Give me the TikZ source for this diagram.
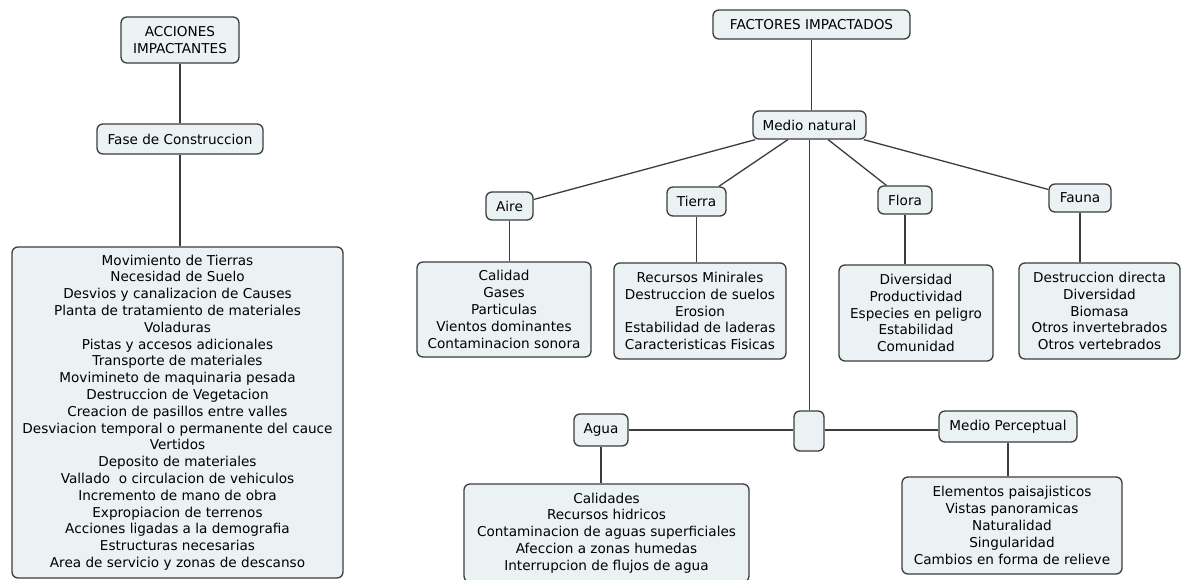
\documentclass[tikz,border=0pt]{standalone}
\usepackage{fontspec}
\setmainfont{DejaVu Sans}
\definecolor{boxfill}{HTML}{EBF2F4}
\definecolor{edge}{HTML}{3C3C3C}
\begin{document}
\begin{tikzpicture}[x=1pt,y=-1pt,
  cbox/.style={draw=edge, fill=boxfill, line width=1.3pt, rounded corners=6pt,
    align=center, inner sep=0pt, font=\fontsize{13.6}{16.8}\selectfont},
  link/.style={draw=edge, line width=1.3pt}]
\useasboundingbox[fill=white] (0,0) rectangle (1181,579);

% left tree
\node[cbox, minimum width=118pt, minimum height=46pt] (acc) at (180,40) {ACCIONES\\IMPACTANTES};
\node[cbox, minimum width=166pt, minimum height=30pt] (fase) at (180,139) {Fase de Construccion};
\node[cbox, minimum width=331pt, minimum height=331pt] (lista) at (177.5,412.5) {Movimiento de Tierras\\Necesidad de Suelo\\Desvios y canalizacion de Causes\\Planta de tratamiento de materiales\\Voladuras\\Pistas y accesos adicionales\\Transporte de materiales\\Movimineto de maquinaria pesada\\Destruccion de Vegetacion\\Creacion de pasillos entre valles\\Desviacion temporal o permanente del cauce\\Vertidos\\Deposito de materiales\\Vallado\ \ o circulacion de vehiculos\\Incremento de mano de obra\\Expropiacion de terrenos\\Acciones ligadas a la demografia\\Estructuras necesarias\\Area de servicio y zonas de descanso};
\draw[link] (acc) -- (fase);
\draw[link] (fase) -- (fase |- lista.north);

% right tree
\node[cbox, minimum width=197pt, minimum height=29pt] (fac) at (811.5,24.5) {FACTORES IMPACTADOS};
\node[cbox, minimum width=113pt, minimum height=28pt] (mn) at (809.5,125) {Medio natural};
\node[cbox, minimum width=47pt, minimum height=28pt] (aire) at (509.5,206) {Aire};
\node[cbox, minimum width=59pt, minimum height=29pt] (tierra) at (696.5,201.5) {Tierra};
\node[cbox, minimum width=54pt, minimum height=28pt] (flora) at (905,200) {Flora};
\node[cbox, minimum width=62pt, minimum height=28pt] (fauna) at (1080,198) {Fauna};

\node[cbox, minimum width=174pt, minimum height=95pt] (aireC) at (504,309.5) {Calidad\\Gases\\Particulas\\Vientos dominantes\\Contaminacion sonora};
\node[cbox, minimum width=172pt, minimum height=96pt] (tierraC) at (700,311) {Recursos Minirales\\Destruccion de suelos\\Erosion\\Estabilidad de laderas\\Caracteristicas Fisicas};
\node[cbox, minimum width=154pt, minimum height=96pt] (floraC) at (916,313) {Diversidad\\Productividad\\Especies en peligro\\Estabilidad\\Comunidad};
\node[cbox, minimum width=161pt, minimum height=96pt] (faunaC) at (1099.5,311) {Destruccion directa\\Diversidad\\Biomasa\\Otros invertebrados\\Otros vertebrados};

\node[cbox, minimum width=30pt, minimum height=40pt] (nudo) at (809,431) {};
\node[cbox, minimum width=54pt, minimum height=32pt] (agua) at (601,430) {Agua};
\node[cbox, minimum width=138pt, minimum height=31pt] (mp) at (1008,426.5) {Medio Perceptual};
\node[cbox, minimum width=285pt, minimum height=98pt] (aguaC) at (606.5,533) {Calidades\\Recursos hidricos\\Contaminacion de aguas superficiales\\Afeccion a zonas humedas\\Interrupcion de flujos de agua};
\node[cbox, minimum width=220pt, minimum height=97pt] (mpC) at (1012,525.5) {Elementos paisajisticos\\Vistas panoramicas\\Naturalidad\\Singularidad\\Cambios en forma de relieve};

\draw[link] (fac) -- (fac |- mn.north);
\draw[link] (mn) -- (aire);
\draw[link] (mn) -- (tierra);
\draw[link] (mn) -- (flora);
\draw[link] (mn) -- (fauna);
\draw[link] (aire) -- (aire |- aireC.north);
\draw[link] (tierra) -- (tierra |- tierraC.north);
\draw[link] (flora) -- (flora |- floraC.north);
\draw[link] (fauna) -- (fauna |- faunaC.north);
\draw[link] (mn) -- (mn |- nudo.north);
\draw[link] (agua) -- (agua -| nudo.west);
\draw[link] (nudo.east |- agua) -- (mp.west |- agua);
\draw[link] (agua) -- (agua |- aguaC.north);
\draw[link] (mp) -- (mp |- mpC.north);
\end{tikzpicture}
\end{document}
